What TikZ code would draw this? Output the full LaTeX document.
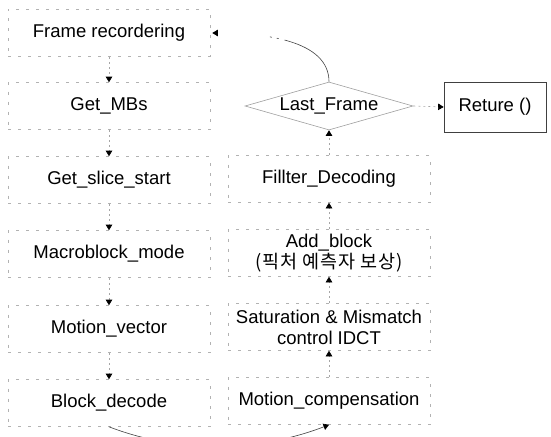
\documentclass[tikz,border=0pt]{standalone}
\usepackage{fontspec}
\setmainfont{Liberation Sans}
\newfontfamily\krfont[LetterSpace=5.0]{Noto Sans CJK KR}
\usetikzlibrary{arrows.meta,shapes.geometric}
\begin{document}
\begin{tikzpicture}[x=1pt,y=-1pt,
  every node/.style={font=\fontsize{18.5}{21}\selectfont, text=black},
  procbox/.style={draw=gray!60, line width=0.6pt, dash pattern=on 3pt off 7pt,
    minimum width=202pt, minimum height=47pt, align=center, inner sep=0pt},
  decision/.style={diamond, draw=gray!75, line width=0.6pt, aspect=3.5,
    minimum width=168pt, minimum height=48pt, inner sep=0pt},
  endbox/.style={draw=black!75, line width=0.7pt, minimum width=102pt,
    minimum height=50pt, inner sep=0pt},
  tip/.style={-{Triangle[length=5.5pt,width=6.5pt,black]}},
  flow/.style={tip, draw=gray!70, line width=0.6pt, dash pattern=on 2pt off 3pt},
  loopback/.style={tip, draw=black!75, line width=0.6pt},
]
\useasboundingbox (0,0) rectangle (551,436);

% decoding steps, left column (top to bottom)
\node[procbox] (fr)  at (109,33)  {Frame recordering};
\node[procbox] (mbs) at (109,106) {Get\_MBs};
\node[procbox] (gss) at (109,180) {Get\_slice\_start};
\node[procbox] (mbm) at (109,254) {Macroblock\_mode};
\node[procbox] (mv)  at (109,329) {Motion\_vector};
\node[procbox] (bd)  at (109,403) {Block\_decode};

% reconstruction steps, right column (bottom to top)
\node[procbox] (mc)  at (329,401) {Motion\_compensation};
\node[procbox] (sat) at (329,327) {Saturation \& Mismatch\\control IDCT};
\node[procbox] (ab)  at (329,253) {Add\_block\\{\krfont (픽처 예측자 보상)}};
\node[procbox] (fd)  at (329,179) {Fillter\_Decoding};

% frame test and exit
\node[decision] (lf)  at (329,106) {Last\_Frame};
\node[endbox]   (ret) at (495,107) {Reture ()};

% left column flow
\draw[flow] (fr.south)  -- (mbs.north);
\draw[flow] (mbs.south) -- (gss.north);
\draw[flow] (gss.south) -- (mbm.north);
\draw[flow] (mbm.south) -- (mv.north);
\draw[flow] (mv.south)  -- (bd.north);

% right column flow
\draw[flow] (mc.north)  -- (sat.south);
\draw[flow] (sat.north) -- (ab.south);
\draw[flow] (ab.north)  -- (fd.south);
\draw[flow] (fd.north)  -- (lf.south);

% exit
\draw[flow] (lf.east) -- (ret.west);

% next frame loop
\draw[loopback, dash pattern=on 66pt off 6pt on 2pt off 5pt on 2pt off 200pt]
  (lf.north) .. controls +(0,-42) and +(50,0) .. ([xshift=2pt]fr.east);

% from block decoding across to motion compensation
\draw[loopback] (bd.south) .. controls +(70,27) and +(-70,27) .. (mc.south);
\end{tikzpicture}
\end{document}
